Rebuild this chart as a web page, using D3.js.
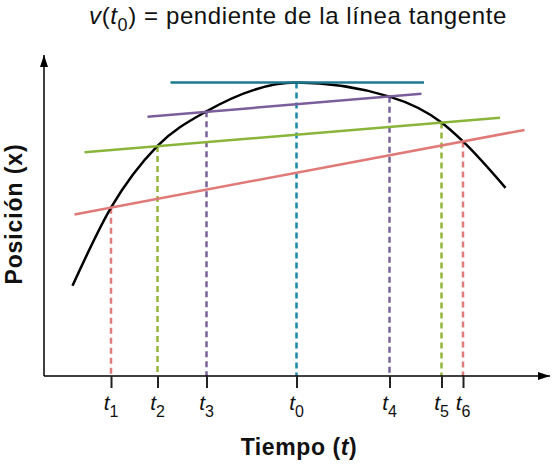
<!DOCTYPE html>
<html>
<head>
<meta charset="utf-8">
<script src="https://cdn.jsdelivr.net/npm/d3@7"></script>
<style>
  body { margin: 0; background: #fff; }
  text { font-family: "Liberation Sans", Arial, sans-serif; }
</style>
</head>
<body>
<svg id="chart"></svg>
<script>
// tick positions along the time axis and their subscripts
const tickTimes = [1.34, 2.27, 3.25, 5.05, 6.91, 7.95, 8.38];
const tickSubs = ["1", "2", "3", "0", "4", "5", "6"];
const tickPositions = [5.26, 7.19, 8.27, 9.17, 8.73, 7.92, 7.33];
const tickColors = ["#e07c7c", "#93b53a", "#7a6399", "#1a88aa", "#7a6399", "#93b53a", "#e07c7c"];

// the black position curve
const curveTimes = [0.57, 1.34, 2.27, 3.25, 5.05, 6.91, 7.95, 8.38, 9.23];
const curvePositions = [2.82, 5.26, 7.19, 8.27, 9.17, 8.73, 7.92, 7.33, 5.88];

// straight lines (tangent at t0 and the secants) : start and end points
const lineStartTimes = [2.53, 2.07, 0.81, 0.61];
const lineStartPositions = [9.17, 8.10, 6.99, 5.05];
const lineEndTimes = [7.60, 7.55, 9.12, 9.61];
const lineEndPositions = [9.17, 8.82, 8.07, 7.69];
const lineColors = ["#1c7a90", "#7a5f9c", "#8ab43a", "#e07a78"];

function main() {
    let width = 553;
    let height = 465;

    let svg = d3.select("#chart")
        .attr("width", width)
        .attr("height", height);

    let x = d3.scaleLinear().domain([0, 10]).range([44, 544]);
    let y = d3.scaleLinear().domain([0, 10]).range([376, 56]);

    // arrow head for both axes
    svg.append("defs").append("marker")
        .attr("id", "arrow")
        .attr("viewBox", "0 0 12 10")
        .attr("refX", 12)
        .attr("refY", 5)
        .attr("markerWidth", 12)
        .attr("markerHeight", 10)
        .attr("markerUnits", "userSpaceOnUse")
        .attr("orient", "auto")
        .append("path")
        .attr("d", "M0,1 L12,5 L0,9 Z")
        .attr("fill", "#000");

    // dashed drop lines from the curve to the time axis
    svg.append("g")
        .selectAll("line")
        .data(tickTimes)
        .join("line")
        .attr("x1", d => x(d))
        .attr("x2", d => x(d))
        .attr("y1", (d, i) => y(tickPositions[i]))
        .attr("y2", y(0))
        .attr("stroke", (d, i) => tickColors[i])
        .attr("stroke-width", 2.5)
        .attr("stroke-dasharray", "6,4");

    // position curve
    let line = d3.line()
        .x((d, i) => x(d))
        .y((d, i) => y(curvePositions[i]))
        .curve(d3.curveMonotoneX);

    svg.append("path")
        .datum(curveTimes)
        .attr("d", line)
        .attr("fill", "none")
        .attr("stroke", "#000")
        .attr("stroke-width", 2.5);

    // tangent / secant lines
    svg.append("g")
        .selectAll("line")
        .data(lineStartTimes)
        .join("line")
        .attr("x1", d => x(d))
        .attr("y1", (d, i) => y(lineStartPositions[i]))
        .attr("x2", (d, i) => x(lineEndTimes[i]))
        .attr("y2", (d, i) => y(lineEndPositions[i]))
        .attr("stroke", (d, i) => lineColors[i])
        .attr("stroke-width", 2.5);

    // axes with arrows
    svg.append("line")
        .attr("x1", x(0)).attr("y1", y(0))
        .attr("x2", 550).attr("y2", y(0))
        .attr("stroke", "#000")
        .attr("stroke-width", 1.5)
        .attr("marker-end", "url(#arrow)");

    svg.append("line")
        .attr("x1", x(0)).attr("y1", y(0))
        .attr("x2", x(0)).attr("y2", 55)
        .attr("stroke", "#000")
        .attr("stroke-width", 1.5)
        .attr("marker-end", "url(#arrow)");

    // tick marks
    let xAxis = d3.axisBottom(x)
        .tickValues(tickTimes)
        .tickSize(12)
        .tickFormat("");

    let axisG = svg.append("g")
        .attr("transform", `translate(0,${y(0)})`)
        .call(xAxis);
    axisG.select(".domain").remove();
    axisG.selectAll(".tick line")
        .attr("stroke", "#222")
        .attr("stroke-width", 2);

    // tick labels: italic t with subscript
    let labels = svg.append("g")
        .selectAll("text")
        .data(tickTimes)
        .join("text")
        .attr("x", d => x(d))
        .attr("y", 410)
        .attr("text-anchor", "middle")
        .attr("font-size", "21px")
        .attr("fill", "#111");
    labels.append("tspan")
        .attr("font-style", "italic")
        .text("t");
    labels.append("tspan")
        .attr("dy", 7)
        .attr("font-size", "16px")
        .text((d, i) => tickSubs[i]);

    // title
    let title = svg.append("text")
        .attr("x", 298)
        .attr("y", 24)
        .attr("text-anchor", "middle")
        .attr("font-size", "24px")
        .attr("letter-spacing", "0.6px")
        .attr("fill", "#111");
    title.append("tspan").attr("font-style", "italic").text("v");
    title.append("tspan").text("(");
    title.append("tspan").attr("font-style", "italic").text("t");
    title.append("tspan").attr("dy", 7).attr("font-size", "18px").text("0");
    title.append("tspan").attr("dy", -7).text(") = pendiente de la línea tangente");

    // axis titles
    let xTitle = svg.append("text")
        .attr("x", 299)
        .attr("y", 455)
        .attr("text-anchor", "middle")
        .attr("font-size", "23px")
        .attr("font-weight", "bold")
        .attr("letter-spacing", "0.6px")
        .attr("fill", "#111");
    xTitle.append("tspan").text("Tiempo (");
    xTitle.append("tspan").attr("font-style", "italic").text("t");
    xTitle.append("tspan").text(")");

    svg.append("text")
        .attr("transform", "translate(22,214) rotate(-90)")
        .attr("text-anchor", "middle")
        .attr("font-size", "23px")
        .attr("font-weight", "bold")
        .attr("letter-spacing", "0.9px")
        .attr("fill", "#111")
        .text("Posición (x)");
}

main();
</script>
</body>
</html>
